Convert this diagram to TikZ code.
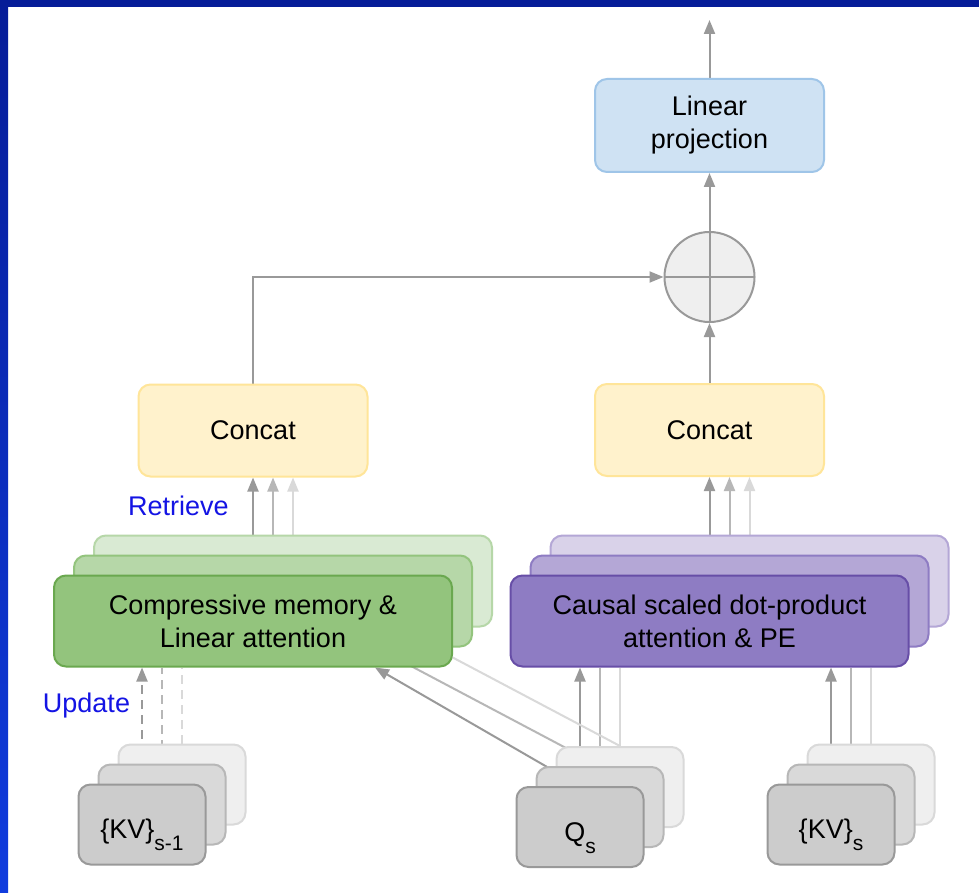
\documentclass[tikz,border=0pt]{standalone}
\usepackage{fontspec}
\setmainfont{Liberation Sans}
\usetikzlibrary{arrows.meta,backgrounds}

\definecolor{navy}{RGB}{6,28,152}
\definecolor{brightblue}{RGB}{16,60,222}
\definecolor{lblblue}{RGB}{20,20,228}
\definecolor{ln1}{HTML}{999999}
\definecolor{ln2}{HTML}{B7B7B7}
\definecolor{ln3}{HTML}{D9D9D9}
\definecolor{lpfill}{HTML}{CFE2F3}
\definecolor{lpdraw}{HTML}{9FC5E8}
\definecolor{catfill}{HTML}{FFF2CC}
\definecolor{catdraw}{HTML}{FFE599}
\definecolor{gfillA}{HTML}{93C47D}
\definecolor{gdrawA}{HTML}{6AA84F}
\definecolor{gfillB}{HTML}{B6D7A8}
\definecolor{gdrawB}{HTML}{93C47D}
\definecolor{gfillC}{HTML}{D9EAD3}
\definecolor{gdrawC}{HTML}{B6D7A8}
\definecolor{pfillA}{HTML}{8E7CC3}
\definecolor{pdrawA}{HTML}{674EA7}
\definecolor{pfillB}{HTML}{B4A7D6}
\definecolor{pdrawB}{HTML}{8E7CC3}
\definecolor{pfillC}{HTML}{D9D2E9}
\definecolor{pdrawC}{HTML}{B4A7D6}
\definecolor{kfillA}{HTML}{CCCCCC}
\definecolor{kdrawA}{HTML}{999999}
\definecolor{kfillB}{HTML}{D9D9D9}
\definecolor{kdrawB}{HTML}{B7B7B7}
\definecolor{kfillC}{HTML}{EFEFEF}
\definecolor{kdrawC}{HTML}{D9D9D9}

\newcommand{\subtxt}[2]{\raisebox{-14pt}[0pt][0pt]{#1\raisebox{-12pt}{\fontsize{21}{21}\selectfont #2}}}

\begin{document}
\begin{tikzpicture}[x=1pt,y=-1pt,
  box/.style={rectangle, rounded corners=12pt, line width=2pt, align=center,
    inner sep=0pt, font=\fontsize{27}{33}\selectfont},
  wide/.style={box, minimum width=398pt, minimum height=91pt},
  catbox/.style={box, fill=catfill, draw=catdraw, minimum width=229pt, minimum height=92pt},
  small/.style={box, minimum width=127pt, minimum height=80pt},
  lbl/.style={text=lblblue, font=\fontsize{27}{30}\selectfont, inner sep=0pt, anchor=base},
  conn/.style={line width=2pt},
  tip/.style={-{Triangle[length=14pt,width=11pt]}},
  dashline/.style={dash pattern=on 9pt off 6pt}
]
\useasboundingbox (0,0) rectangle (979,893);

% output head
\node[box, fill=lpfill, draw=lpdraw, minimum width=229pt, minimum height=93pt] (lp) at (709.5,125.5) {Linear\\projection};
\coordinate (out) at (709.5,20);

% merge
\node[circle, draw=ln1, fill=kfillC, line width=2pt, minimum size=90pt, inner sep=0pt,
  path picture={\draw[ln1, line width=2pt]
    (path picture bounding box.north) -- (path picture bounding box.south)
    (path picture bounding box.west) -- (path picture bounding box.east);}] (plus) at (709.5,277) {};
\coordinate (bend) at (253,277);

% concat blocks
\node[catbox] (catl) at (253,430.5) {Concat};
\node[catbox] (catr) at (709.5,430) {Concat};

% memory heads (back to front)
\node[wide, fill=gfillC, draw=gdrawC] (g3) at (293,581) {};
\node[wide, fill=gfillB, draw=gdrawB] (g2) at (273,601) {};
\node[wide, fill=gfillA, draw=gdrawA] (g1) at (253,621) {Compressive memory \&\\Linear attention};

% local attention heads (back to front)
\node[wide, fill=pfillC, draw=pdrawC] (p3) at (749.5,581) {};
\node[wide, fill=pfillB, draw=pdrawB] (p2) at (729.5,601) {};
\node[wide, fill=pfillA, draw=pdrawA] (p1) at (709.5,621) {Causal scaled dot-product\\attention \& PE};

% inputs
\node[small, fill=kfillC, draw=kdrawC] (m3) at (182,784.5) {};
\node[small, fill=kfillB, draw=kdrawB] (m2) at (162,804.5) {};
\node[small, fill=kfillA, draw=kdrawA] (m1) at (142,824.5) {\subtxt{\{KV\}}{s-1}};

\node[small, fill=kfillC, draw=kdrawC] (q3) at (620,787) {};
\node[small, fill=kfillB, draw=kdrawB] (q2) at (600,807) {};
\node[small, fill=kfillA, draw=kdrawA] (q1) at (580,827) {\subtxt{Q}{s}};

\node[small, fill=kfillC, draw=kdrawC] (k3) at (871,784.5) {};
\node[small, fill=kfillB, draw=kdrawB] (k2) at (851,804.5) {};
\node[small, fill=kfillA, draw=kdrawA] (k1) at (831,824.5) {\subtxt{\{KV\}}{s}};

% labels
\node[lbl] (retrieve) at (178.5,515) {Retrieve};
\node[lbl] (update) at (86.5,712) {Update};

\begin{scope}[on background layer]
  \fill[white] (0,0) rectangle (979,893);
  \shade[top color=navy, bottom color=brightblue] (0,0) rectangle (8,893);
  \fill[navy] (0,0) rectangle (979,7);

  % head to output
  \draw[conn, ln1, tip] (lp.north) -- (out);
  \draw[conn, ln1, tip] (plus.north) -- (lp.south);
  \draw[conn, ln1, tip] (catr.north) -- (plus.south);
  \draw[conn, ln1, tip] (catl.north) -- (bend) -- (plus.west);

  % retrieve
  \draw[conn, ln1, tip] (g1.north) -- (catl.south -| g1.north);
  \draw[conn, ln2, tip] (g2.north) -- (catl.south -| g2.north);
  \draw[conn, ln3, tip] (g3.north) -- (catl.south -| g3.north);
  \draw[conn, ln1, tip] (p1.north) -- (catr.south -| p1.north);
  \draw[conn, ln2, tip] (p2.north) -- (catr.south -| p2.north);
  \draw[conn, ln3, tip] (p3.north) -- (catr.south -| p3.north);

  % update
  \draw[conn, ln1, dashline, tip] (m1.north) -- (g1.south -| m1.north);
  \draw[conn, ln2, dashline] (m2.north) -- (g1.south -| m2.north);
  \draw[conn, ln3, dashline] (m3.north) -- (g1.south -| m3.north);

  % queries
  \draw[conn, ln1, tip] (q1.north) -- (p1.south -| q1.north);
  \draw[conn, ln2] (q2.north) -- (p1.south -| q2.north);
  \draw[conn, ln3] (q3.north) -- (p1.south -| q3.north);
  \draw[conn, ln1, tip] (q1.north) -- ([xshift=122pt]g1.south);
  \draw[conn, ln2] (q2.north) -- ([xshift=103pt]g2.south);
  \draw[conn, ln3] (q3.north) -- ([xshift=103pt]g3.south);

  % keys and values
  \draw[conn, ln1, tip] (k1.north) -- (p1.south -| k1.north);
  \draw[conn, ln2] (k2.north) -- (p1.south -| k2.north);
  \draw[conn, ln3] (k3.north) -- (p1.south -| k3.north);
\end{scope}
\end{tikzpicture}
\end{document}
